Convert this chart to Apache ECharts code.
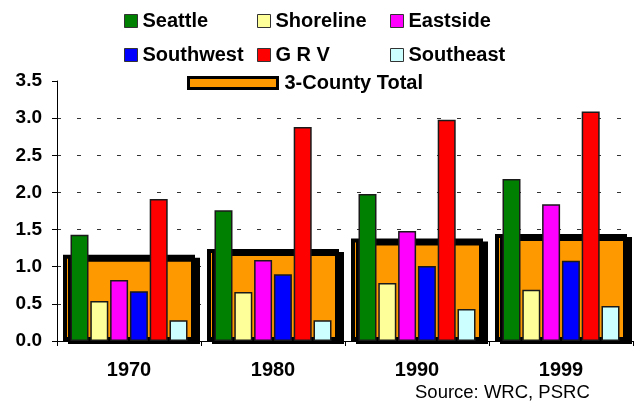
<!DOCTYPE html>
<html>
<head>
<meta charset="utf-8">
<script src="https://cdn.jsdelivr.net/npm/echarts@6/dist/echarts.min.js"></script>
<style>
  html, body { margin: 0; padding: 0; background: #fff; }
  #main { width: 642px; height: 413px; }
</style>
</head>
<body>
<div id="main"></div>
<script>
// data
const years = ['1970', '1980', '1990', '1999'];
const seriesNames = ['Seattle', 'Shoreline', 'Eastside', 'Southwest', 'G R V', 'Southeast'];
const seattle = [1.43, 1.76, 1.98, 2.18];
const shoreline = [0.54, 0.66, 0.78, 0.69];
const eastside = [0.82, 1.09, 1.48, 1.84];
const southwest = [0.67, 0.90, 1.01, 1.08];
const grv = [1.91, 2.88, 2.98, 3.09];
const southeast = [0.28, 0.28, 0.43, 0.47];
const countyTotal = [1.16, 1.24, 1.38, 1.44];
const totalName = '3-County Total';

const colors = ['#008000', '#FFFF99', '#FF00FF', '#0000FF', '#FF0000', '#CCFFFF'];
const values = [seattle, shoreline, eastside, southwest, grv, southeast];

const font = 'Liberation Sans, Arial, sans-serif';

// one legend per item so each sits where it does in the original
const legendSpots = [
  ['Seattle', 124, 10], ['Shoreline', 257, 10], ['Eastside', 390, 10],
  ['Southwest', 124, 44], ['G R V', 257, 44], ['Southeast', 390, 44]
];
const legends = legendSpots.map(([name, left, top]) => ({
  data: [name],
  left: left,
  top: top,
  padding: 0,
  itemWidth: 13,
  itemHeight: 13,
  icon: 'rect',
  itemStyle: { borderColor: '#333', borderWidth: 1, shadowBlur: 0, shadowOffsetX: 0, shadowOffsetY: 0 },
  textStyle: { fontFamily: font, fontWeight: 'bold', fontSize: 20, lineHeight: 22, color: '#000' }
}));
legends.push({
  data: [totalName],
  left: 187,
  top: 72,
  padding: 0,
  itemWidth: 89,
  itemHeight: 11,
  icon: 'rect',
  itemStyle: { borderColor: '#000', borderWidth: 3, shadowBlur: 0, shadowOffsetX: 0, shadowOffsetY: 0 },
  textStyle: { fontFamily: font, fontWeight: 'bold', fontSize: 20, lineHeight: 22, color: '#000', padding: [0, 0, 0, 2] }
});

const chart = echarts.init(document.getElementById('main'), null, { renderer: 'canvas' });

const series = [{
  name: totalName,
  type: 'bar',
  xAxisIndex: 1,
  data: countyTotal,
  barWidth: 132,
  z: 1,
  itemStyle: {
    color: '#FF9900',
    borderColor: '#000',
    borderWidth: 4,
    shadowColor: '#000',
    shadowBlur: 0,
    shadowOffsetX: 5,
    shadowOffsetY: 3
  }
}];
seriesNames.forEach((name, i) => {
  series.push({
    name: name,
    type: 'bar',
    xAxisIndex: 0,
    data: values[i],
    barCategoryGap: '18.75%',
    barGap: '10%',
    z: 3,
    itemStyle: { color: colors[i], borderColor: '#1a1a1a', borderWidth: 1.5 }
  });
});

chart.setOption({
  animation: false,
  backgroundColor: '#fff',
  legend: legends,
  grid: { left: 57, right: 9, top: 81, bottom: 72 },
  xAxis: [{
    type: 'category',
    data: years,
    axisLine: { lineStyle: { color: '#000', width: 1 } },
    axisTick: { show: true, length: 5, lineStyle: { color: '#000' } },
    axisLabel: { fontFamily: font, fontWeight: 'bold', fontSize: 20, color: '#000', margin: 19 },
    z: 5
  }, {
    type: 'category',
    data: years,
    show: false
  }],
  yAxis: {
    type: 'value',
    min: 0,
    max: 3.5,
    interval: 0.5,
    axisLine: { show: true, lineStyle: { color: '#000', width: 1 } },
    axisTick: { show: true, length: 5, lineStyle: { color: '#000' } },
    axisLabel: {
      fontFamily: font, fontWeight: 'bold', fontSize: 19, color: '#000', margin: 15,
      formatter: v => v.toFixed(1)
    },
    splitLine: {
      show: true,
      lineStyle: {
        color: ['transparent', '#333', '#333', '#333', '#333', '#333', '#333', 'transparent'],
        type: [4, 16],
        width: 1
      }
    }
  },
  graphic: [{
    type: 'text',
    left: 415,
    top: 383,
    style: { text: 'Source: WRC, PSRC', fontFamily: font, fontSize: 18.5, fill: '#000' }
  }],
  series: series
});
</script>
</body>
</html>
